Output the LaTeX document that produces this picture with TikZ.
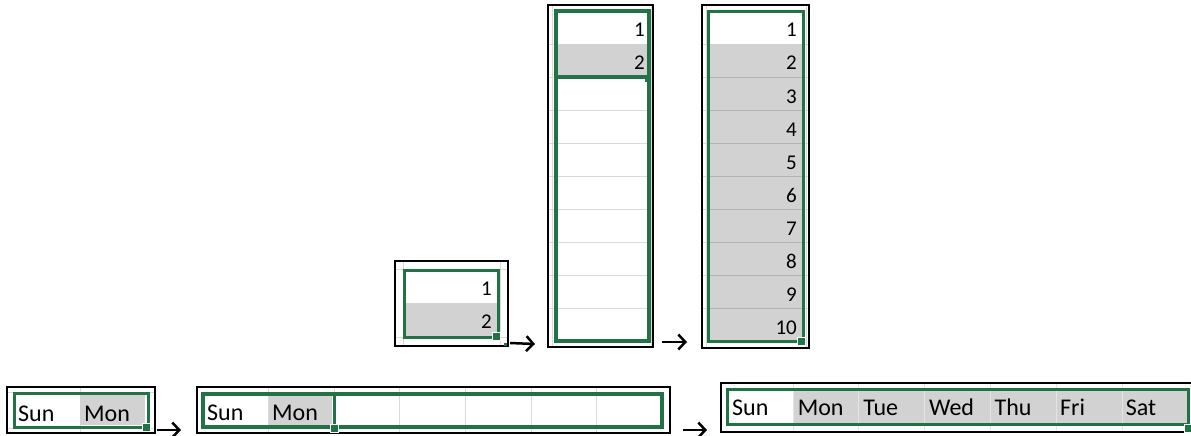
\documentclass[tikz,border=0pt]{standalone}
\usepackage{fontspec}
\setmainfont{Carlito}
\usetikzlibrary{arrows.meta,positioning,calc}
\definecolor{xlgreen}{HTML}{217346}
\definecolor{xlfill}{HTML}{D2D2D2}
\definecolor{xlgrid}{HTML}{DADADA}
\definecolor{xlline}{HTML}{B4B4B4}
\definecolor{xlpale}{HTML}{E4E4E4}
\tikzstyle{fillarrow} = [-{Straight Barb[length=7pt,width=15pt,line width=2.5pt]}, line width=2.5pt, draw=black]

\begin{document}
\begin{tikzpicture}[x=1pt, y=-1pt,
  sheetbox/.style={rectangle, draw=black, line width=1.6pt, inner sep=0pt, outer sep=0pt, anchor=north west},
  gridrule/.style={draw=xlgrid, line width=0.8pt},
  selthick/.style={draw=xlgreen, line width=4.5pt},
  selthin/.style={draw=xlgreen, line width=3pt},
  handle/.style={rectangle, fill=xlgreen, draw=white, line width=0.8pt, inner sep=0pt, minimum size=8pt},
  num/.style={inner sep=0pt, anchor=base east, font=\fontsize{21}{24}\selectfont},
  day/.style={inner sep=0pt, anchor=base west, font=\fontsize{24}{28}\selectfont}]

\useasboundingbox (0,0) rectangle (1191,436);

\node[sheetbox, minimum width=113pt, minimum height=85pt] (pair) at (395,261) {};
\draw[gridrule] (403,262) -- (403,345) (500,262) -- (500,345)
  (396,269) -- (507,269) (396,337) -- (507,337);
\fill[xlfill] (405,303) rectangle (497,336);
\draw[selthin] (404,270) rectangle (498,337);
\node[num] (p1) at (492,295) {1};
\node[num] (p2) at (492,328) {2};
\node[handle] (ph) at (496,336) {};
\fill[xlgreen] (504,343) rectangle (507,346);

\node[sheetbox, minimum width=105pt, minimum height=342pt] (tall) at (548,5) {};
\foreach \r in {1,...,9} \draw[gridrule] (549,11+33*\r) -- (652,11+33*\r);
\draw[gridrule] (552,6) -- (552,346) (651,6) -- (651,346);
\fill[xlfill] (557,44) rectangle (647,77);
\draw[selthick] (556,11) rectangle (649,341);
\draw[xlgreen, line width=3pt] (556,77) -- (649,77);
\node[num] (t1) at (645,37) {1};
\node[num] (t2) at (645,70) {2};
\node[rectangle, fill=xlgreen, inner sep=0pt, minimum size=5pt] (th) at (647,79) {};

\node[sheetbox, minimum width=107pt, minimum height=343pt] (filled) at (702,5) {};
\foreach \r in {1,...,9} \draw[gridrule] (703,11+33*\r) -- (808,11+33*\r);
\draw[gridrule] (706,6) -- (706,347) (806,6) -- (806,347);
\fill[xlfill] (709,44) rectangle (802,341);
\foreach \r in {2,...,9} \draw[xlline, line width=0.8pt] (709,11+33*\r) -- (802,11+33*\r);
\draw[selthin] (708,12) rectangle (803,341);
\foreach \r in {1,...,10} \node[num] (f\r) at (797,4+33*\r) {\r};
\node[handle] (fh) at (801,341) {};

\draw[fillarrow] ($(pair.south east)+(2,-3)$) -- ($(tall.south west)+(-13,-3)$);
\draw[fillarrow] ($(tall.south east)+(9,-5)$) -- ($(filled.south west)+(-15,-6)$);

\node[sheetbox, minimum width=148pt, minimum height=46pt] (short) at (7,387) {};
\draw[gridrule] (80,388) -- (80,432) (8,392) -- (154,392) (8,428) -- (154,428);
\fill[xlfill] (80,395) rectangle (145,425);
\draw[selthin] (14,393) rectangle (148,427);
\node[day] (s1) at (18,421) {Sun};
\node[day] (s2) at (84,421) {Mon};
\node[handle] (sh) at (146,427) {};

\node[sheetbox, minimum width=473pt, minimum height=46pt] (wide) at (197,387) {};
\foreach \c in {1,...,6} \draw[gridrule] (203+65.6*\c,388) -- (203+65.6*\c,432);
\fill[xlfill] (269,396) rectangle (332,425);
\draw[selthick] (203,394) rectangle (662,427);
\draw[xlgreen, line width=3pt] (334,394) -- (334,427);
\node[day] (w1) at (207,420) {Sun};
\node[day] (w2) at (272,420) {Mon};
\node[handle] (wh) at (334,428) {};

\node[sheetbox, minimum width=474pt, minimum height=49pt] (week) at (721,383) {};
\fill[xlfill] (793,390) rectangle (1187,423);
\foreach \c in {1,...,6} \draw[xlpale, line width=0.8pt] (727+65.9*\c,384) -- (727+65.9*\c,431);
\draw[selthin] (727,389) rectangle (1188,424);
\foreach \d [count=\i from 0] in {Sun,Mon,Tue,Wed,Thu,Fri,Sat}
  \node[day] (d\i) at (732+65.6*\i,415) {\d};
\node[handle] (dh) at (1188,428) {};

\draw[fillarrow] ($(short.south east)+(2,-3)$) -- ($(wide.south west)+(-16,-3)$);
\draw[fillarrow] ($(wide.south east)+(13,-3)$) -- ($(week.south west)+(-14,-2)$);
\end{tikzpicture}
\end{document}
